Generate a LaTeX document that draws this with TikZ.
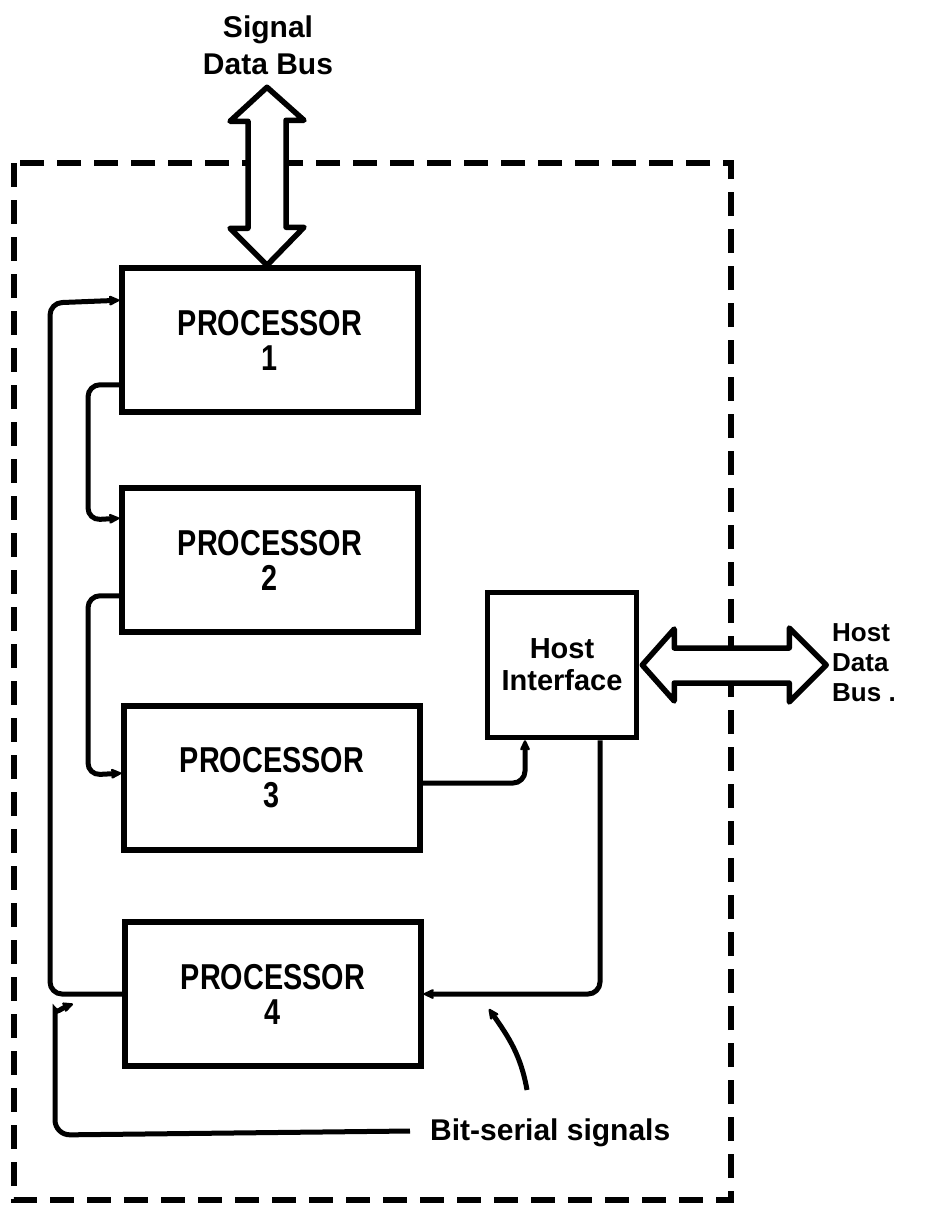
\documentclass[tikz,border=0pt]{standalone}
\usepackage{fontspec}
\setmainfont{Liberation Sans}
\newfontfamily\procfont[FakeStretch=0.8]{Liberation Sans}
\usetikzlibrary{arrows.meta,calc}
\begin{document}
\begin{tikzpicture}[x=1pt,y=-1pt,
  box/.style={draw,line width=5.5pt,inner sep=0pt,align=center},
  proc/.style={box,minimum width=296pt,minimum height=144pt,font=\procfont\bfseries\fontsize{36}{35}\selectfont},
  conn/.style={line width=5pt,rounded corners=12pt,-{Stealth[length=14pt,width=13pt,round]}},
  bus/.style={draw,line width=5.5pt,fill=white,line join=round},
  lab/.style={align=center,inner sep=0pt,font=\bfseries\fontsize{30}{37}\selectfont},
  encl/.style={line width=5.5pt,dash pattern=on 24pt off 13pt}
]
\useasboundingbox (0,0) rectangle (926,1208);
\fill[white] (0,0) rectangle (926,1208);

% enclosure
\draw[encl] (14,163) rectangle (731,1200);

% nodes
\node[proc] (p1) at (270,340) {PROCESSOR\\1};
\node[proc] (p2) at (270,560) {PROCESSOR\\2};
\node[proc] (p3) at (272,778) {PROCESSOR\\3};
\node[proc] (p4) at (273,994) {PROCESSOR\\4};
\node[box,minimum width=149pt,minimum height=145pt,font=\bfseries\fontsize{29}{32}\selectfont] (hi) at (562,665) {Host\\Interface};

\node[lab] (sdb) at (268,45) {Signal\\Data Bus};
\node[lab,align=left,anchor=west,font=\bfseries\fontsize{26}{30}\selectfont] (hdb) at (832,663) {Host\\Data\\Bus .};
\node[lab,anchor=west,font=\bfseries\fontsize{30}{30}\selectfont] (bs) at (430,1133) {Bit-serial signals};

% bus arrows
\draw[bus] ($(p1.north)+(-3,-178)$) -- ++(37,33) -- ++(-18,0) -- ++(0,107) -- ++(18,0)
   -- ($(p1.north)+(-3,0)$) -- ++(-37,-37) -- ++(18,0) -- ++(0,-107) -- ++(-18,0) -- cycle;
\draw[bus] ($(hi.east)+(3,0)$) -- ++(32,-36) -- ++(0,19) -- ++(115,0) -- ++(0,-20)
   -- ++(37,37) -- ++(-37,37) -- ++(0,-19) -- ++(-115,0) -- ++(0,18) -- cycle;

% connectors
\coordinate (cl) at (50,303);
\draw[conn] (p4.west) -| (cl) -- ([yshift=-35pt]p1.north west);
\coordinate (c2) at (88,520);
\draw[conn] ([yshift=30pt]p1.south west) -| (c2) -- ([yshift=-33pt]p2.north west);
\coordinate (c3) at (88,775);
\draw[conn] ([yshift=39pt]p2.south west) -| (c3) -- ([yshift=-70pt]p3.north west);
\draw[conn] ([yshift=-5pt]p3.east) -| ([xshift=-37pt]hi.south);
\draw[conn] ([xshift=38pt]hi.south) |- (p4.east);
\coordinate (t6) at (73,1004);
\draw[conn,rounded corners=15pt] ([xshift=-20pt,yshift=2pt]bs.west) -- (55,1135) -- (55,1025) to[out=90,in=200] (t6);
\coordinate (pa) at (527,1090);
\coordinate (pb) at (489,1009);
\draw[conn,rounded corners=0pt] (pa) to[out=100,in=-55] (pb);
\end{tikzpicture}
\end{document}
